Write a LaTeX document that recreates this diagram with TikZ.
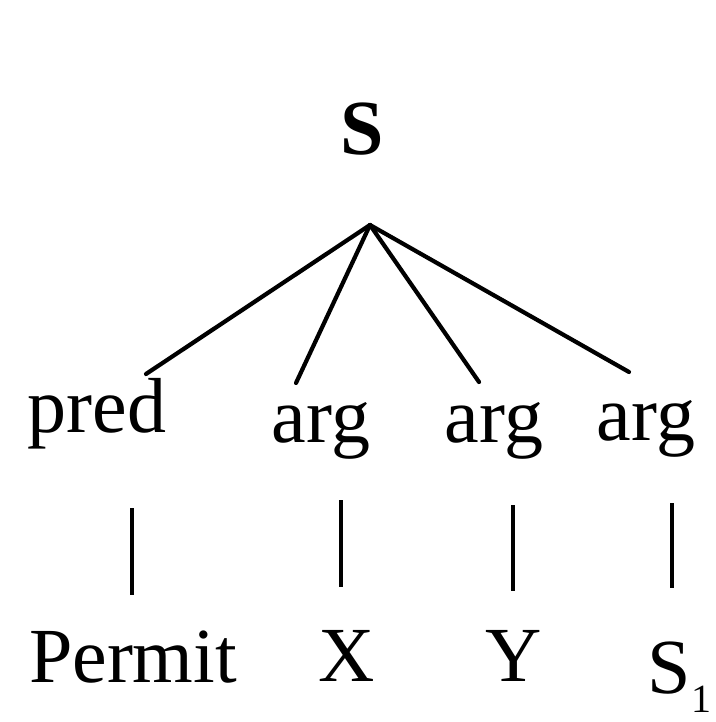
\documentclass[tikz,border=0pt]{standalone}
\usepackage{fontspec}
\setmainfont{Liberation Serif}
\begin{document}
\begin{tikzpicture}[x=1pt,y=-1pt,
  lbl/.style={inner sep=0pt,anchor=base,font=\fontsize{78}{90}\selectfont},
  branch/.style={line width=4.2pt,line cap=round},
  bar/.style={line width=3.4pt}]
\useasboundingbox (0,0) rectangle (715,722);
% labels
\node[lbl,font=\fontsize{78}{90}\selectfont\bfseries] (S) at (362,155) {S};
\node[lbl] (pred) at (97,432) {pred};
\node[lbl] (arg1) at (321,442) {arg};
\node[lbl] (arg2) at (494,442) {arg};
\node[lbl] (arg3) at (646,440) {arg};
\node[lbl] (permit) at (133,682) {Permit};
\node[lbl] (X) at (347,681) {X};
\node[lbl] (Y) at (514,681) {Y};
\node[lbl] (S1) at (669,693) {S};
\node[inner sep=0pt,anchor=base west,font=\fontsize{40}{48}\selectfont] (sub) at (691,712) {1};
% branch points
\coordinate (apex) at (370,225);
\coordinate (e1) at (146,374);
\coordinate (e2) at (296,383);
\coordinate (e3) at (479,382);
\coordinate (e4) at (629,372);
\draw[branch] (apex) -- (e1);
\draw[branch] (apex) -- (e2);
\draw[branch] (apex) -- (e3);
\draw[branch] (apex) -- (e4);
% vertical bars
\coordinate (b1t) at (132,508); \coordinate (b1b) at (132,595);
\coordinate (b2t) at (341,500); \coordinate (b2b) at (341,587);
\coordinate (b3t) at (513,505); \coordinate (b3b) at (513,591);
\coordinate (b4t) at (672,503); \coordinate (b4b) at (672,588);
\draw[bar] (b1t) -- (b1b);
\draw[bar] (b2t) -- (b2b);
\draw[bar] (b3t) -- (b3b);
\draw[bar] (b4t) -- (b4b);
\end{tikzpicture}
\end{document}
